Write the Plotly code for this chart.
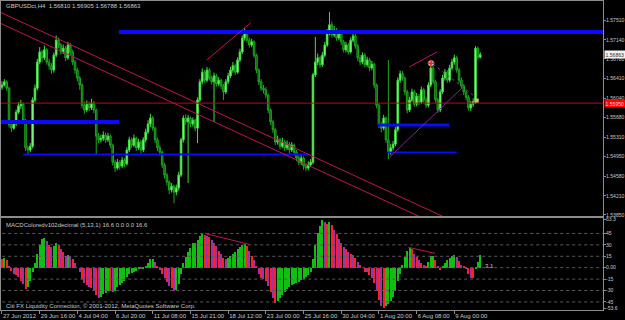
import numpy as np
import plotly.graph_objects as go

# ---------------- DATA ----------------
# prices stored in pips above 1.5000 (value = 1.5 + pips * 0.0001)
BASE = 1.5
PIP = 0.0001

first_open_pips = 625
close_pips = [
    629, 635, 623, 554, 548, 556, 578, 590, 593, 563,
    511, 507, 514, 601, 623, 672, 691, 680, 695, 672,
    665, 657, 685, 713, 704, 691, 698, 680, 704, 691,
    672, 657, 642, 629, 591, 582, 593, 586, 595, 582,
    533, 526, 529, 535, 526, 533, 516, 484, 473, 484,
    477, 488, 481, 507, 526, 516, 529, 511, 522, 507,
    526, 541, 556, 567, 548, 526, 511, 503, 479, 460,
    447, 432, 439, 428, 436, 460, 526, 567, 560, 567,
    556, 563, 548, 601, 635, 653, 638, 657, 642, 635,
    646, 631, 638, 627, 616, 635, 646, 657, 665, 653,
    676, 691, 717, 728, 713, 704, 710, 685, 657, 635,
    623, 620, 610, 582, 560, 545, 522, 526, 514, 522,
    511, 518, 507, 516, 503, 492, 484, 492, 477, 473,
    479, 484, 648, 672, 680, 667, 685, 704, 728, 742,
    723, 732, 717, 725, 710, 695, 704, 691, 713, 721,
    702, 680, 672, 685, 667, 676, 661, 668, 629, 591,
    554, 548, 567, 526, 503, 511, 518, 545, 638, 650,
    642, 616, 582, 601, 616, 593, 608, 597, 620, 601,
    591, 629, 661, 635, 601, 582, 616, 642, 653, 638,
    661, 672, 680, 657, 638, 627, 616, 606, 586, 593,
    598, 698, 681, 686.3,
]
high_pips = [
    636, 640, 638, 626, 560, 562, 583, 597, 601, 596,
    566, 516, 520, 606, 630, 678, 700, 695, 703, 698,
    678, 670, 690, 722, 718, 708, 705, 702, 710, 708,
    695, 676, 661, 646, 632, 598, 600, 598, 603, 599,
    585, 539, 536, 542, 540, 539, 536, 519, 489, 490,
    488, 494, 492, 512, 532, 530, 536, 532, 528, 526,
    531, 547, 563, 575, 571, 551, 530, 516, 506, 483,
    464, 450, 445, 442, 442, 466, 530, 572, 574, 573,
    570, 568, 566, 606, 640, 660, 657, 663, 661, 647,
    652, 650, 644, 641, 631, 640, 652, 663, 672, 669,
    681, 697, 722, 736, 731, 718, 716, 713, 688, 660,
    640, 629, 625, 613, 585, 563, 548, 534, 530, 530,
    526, 525, 522, 522, 519, 507, 497, 498, 495, 482,
    486, 490, 652, 719, 688, 684, 691, 710, 734, 766,
    748, 740, 736, 731, 729, 714, 710, 708, 718, 728,
    725, 706, 685, 690, 689, 682, 680, 674, 671, 632,
    595, 560, 573, 570, 676, 518, 524, 550, 643, 656,
    655, 645, 620, 607, 622, 620, 614, 612, 626, 624,
    606, 634, 670, 665, 639, 605, 621, 648, 659, 657,
    667, 678, 686, 684, 661, 643, 631, 620, 610, 599,
    604, 702, 701, 690.5,
]
low_pips = [
    620, 626, 618, 549, 541, 545, 552, 575, 584, 558,
    505, 498, 503, 510, 596, 619, 668, 672, 676, 667,
    658, 650, 652, 681, 698, 686, 687, 674, 676, 685,
    666, 650, 636, 620, 585, 575, 578, 580, 582, 576,
    498, 520, 521, 524, 520, 522, 510, 478, 466, 470,
    470, 473, 475, 478, 503, 511, 512, 505, 507, 500,
    503, 521, 537, 550, 543, 520, 505, 496, 473, 453,
    440, 424, 427, 407, 422, 431, 456, 521, 554, 445,
    550, 551, 542, 520, 597, 630, 633, 634, 637, 630,
    560, 626, 627, 621, 601, 612, 631, 642, 652, 648,
    650, 672, 687, 712, 708, 699, 700, 680, 651, 629,
    618, 613, 604, 576, 554, 539, 516, 517, 508, 510,
    505, 507, 500, 503, 497, 486, 478, 479, 470, 467,
    469, 475, 480, 644, 666, 661, 663, 681, 700, 722,
    718, 719, 712, 713, 704, 690, 690, 686, 688, 709,
    697, 674, 666, 668, 662, 663, 655, 657, 623, 585,
    548, 540, 544, 520, 490, 498, 506, 514, 541, 633,
    637, 610, 576, 578, 597, 588, 589, 591, 593, 596,
    586, 587, 625, 630, 596, 577, 578, 612, 637, 633,
    634, 656, 667, 652, 632, 622, 610, 600, 581, 580,
    588, 594, 677, 678.8,
]
macd_values = [
    12, 13, 10, 2, -4, -8, -10, -12, -18, -22,
    -28, -26, -18, -5, 6, 18, 30, 38, 39, 35,
    30, 27, 28, 32, 30, 25, 21, 16, 17, 16,
    12, 6, 0, -6, -15, -20, -23, -25, -27, -30,
    -36, -40, -38, -35, -33, -30, -30, -32, -30, -26,
    -23, -20, -17, -12, -8, -7, -5, -4, -2, -2,
    -1, 2, 6, 11, 12, 7, 2, -3, -8, -14,
    -19, -24, -27, -30, -29, -22, -8, 6, 14, 20,
    26, 32, 33, 37, 41, 44, 43, 42, 40, 36,
    33, 28, 22, 18, 13, 12, 13, 15, 18, 20,
    24, 27, 30, 31, 28, 22, 16, 10, 2, -8,
    -13, -15, -18, -24, -32, -40, -46, -44, -40, -36,
    -32, -28, -25, -23, -22, -20, -19, -16, -15, -12,
    -10, -5, 12, 30, 45, 55, 63.3, 60, 58, 60,
    56, 50, 44, 38, 33, 27, 24, 20, 18, 17,
    13, 8, 3, 0, -5, -6, -10, -13, -20, -30,
    -42, -50, -53.6, -50, -48, -44, -38, -30, -18, -8,
    4, 14, 22, 26, 24, 18, 14, 10, 6, 3,
    2, 8, 15, 16, 10, 2, -3, 1, 6, 10,
    13, 15, 17, 14, 9, 4, 1, -1, -8, -13,
    -14, -2, 8, 16.6,
]

time_tick_bars = [0, 16, 32, 48, 64, 80, 96, 112, 128, 144, 160, 176, 192]
time_tick_text = ["27 Jun 2012", "29 Jun 16:00", "4 Jul 04:00", "6 Jul 20:00",
                  "11 Jul 08:00", "15 Jul 21:00", "18 Jul 12:00", "23 Jul 00:00",
                  "25 Jul 16:00", "30 Jul 04:00", "1 Aug 20:00", "6 Aug 08:00",
                  "9 Aug 00:00"]
price_ticks = [1.57510, 1.57140, 1.56780, 1.56410, 1.56040, 1.55680,
               1.55310, 1.54950, 1.54580, 1.54210, 1.53850]
macd_ticks = [63.3, 45, 30, 15, 0, -15, -30, -45, -53.6]
macd_tick_text = ["63.3", "45", "30", "15", "0.00", "-15", "-30", "-45", "-53.6"]
macd_levels = [45, 30, 15, 0, -15, -30, -45]

red_level_price = 1.55950
blue_level_price = [1.57285, 1.55595, 1.54985, 1.55540, 1.55027]
blue_level_from_bar = [49.7, -1.0, 9.0, 159.5, 163.3]
blue_level_to_bar = [300.0, 49.8, 129.9, 189.9, 193.0]

channel_upper_bars = [-1, 230]
channel_upper_price = [1.57661, 1.52949]
channel_lower_bars = [-1, 230]
channel_lower_price = [1.57455, 1.52743]
crimson_a_bars = [86.9, 105.6]
crimson_a_price = [1.56759, 1.57459]
crimson_b_bars = [172.8, 184.6]
crimson_b_price = [1.56628, 1.56909]
purple_up_bars = [164.7, 195.7]
purple_up_price = [1.54944, 1.56252]
purple_dot_bars = [182.9, 199.9]
purple_dot_price = [1.56684, 1.56102]
macd_line_a_bars = [86.2, 105.0]
macd_line_a_vals = [44.9, 30.7]
macd_line_b_bars = [172.5, 183.8]
macd_line_b_vals = [26.8, 18.9]
stop_marker_bar = [182.1]
stop_marker_price = [1.56697]
trade_marker_bar = [201.5]
trade_marker_price = [1.55999]

symbol = "GBPUSDct,H4"
macd_caption = "MACDColoredv102decimal (5,13,1) 16.6 0.0 0.0 16.6"
macd_side_text = "3.1"
copyright_text = "Citi FX Liquidity Connection, \u00a9 2001-2012, MetaQuotes Software Corp."

# ---------------- BUILD ----------------
n = len(close_pips)
bars = np.arange(n)
close = BASE + np.array(close_pips, dtype=float) * PIP
opens = BASE + np.array([first_open_pips] + close_pips[:-1], dtype=float) * PIP
high = np.maximum(BASE + np.array(high_pips, dtype=float) * PIP, np.maximum(opens, close))
low = np.minimum(BASE + np.array(low_pips, dtype=float) * PIP, np.minimum(opens, close))

W, H = 625, 320
FONT = "Liberation Sans"
TXT = "#c8c8c8"
FRAME = "#8c8c8c"

def px_x(p):
    return p / W

def px_y(p):
    return 1 - p / H

fig = go.Figure()

fig.add_trace(go.Candlestick(
    x=bars, open=opens, high=high, low=low, close=close,
    xaxis="x", yaxis="y",
    increasing=dict(line=dict(color="#40e040", width=1), fillcolor="#9cff9c"),
    decreasing=dict(line=dict(color="#1fa51f", width=1), fillcolor="#0c5a0c"),
    whiskerwidth=0, hoverinfo="skip",
))

def seg(xs, ys, color, width, dash="solid", xa="x", ya="y"):
    fig.add_trace(go.Scatter(x=xs, y=ys, mode="lines", xaxis=xa, yaxis=ya,
                             line=dict(color=color, width=width, dash=dash),
                             hoverinfo="skip"))

# horizontal red level
seg([-5, 300], [red_level_price, red_level_price], "#b01010", 1)

# blue levels
blue_widths = [4, 4, 2, 3, 1.5]
for f, t, p, w in zip(blue_level_from_bar, blue_level_to_bar, blue_level_price, blue_widths):
    seg([f, t], [p, p], "#0a0aff", w)

# trend lines
CRIMSON = "#c0145a"
seg(channel_upper_bars, channel_upper_price, CRIMSON, 1)
seg(channel_lower_bars, channel_lower_price, CRIMSON, 1)
seg(crimson_a_bars, crimson_a_price, CRIMSON, 1)
seg(crimson_b_bars, crimson_b_price, CRIMSON, 1)
seg(purple_up_bars, purple_up_price, "#7a2a8a", 1)
seg(purple_dot_bars, purple_dot_price, "#8a2a9a", 1, dash="dot")

# markers
fig.add_trace(go.Scatter(x=stop_marker_bar, y=stop_marker_price, mode="markers",
                         xaxis="x", yaxis="y", hoverinfo="skip",
                         marker=dict(symbol="circle", size=6, color="#b0b0b0")))
fig.add_trace(go.Scatter(x=stop_marker_bar, y=stop_marker_price, mode="markers",
                         xaxis="x", yaxis="y", hoverinfo="skip",
                         marker=dict(symbol="cross-thin", size=5, color="#ff2020",
                                     line=dict(color="#ff2020", width=1.5))))
fig.add_trace(go.Scatter(x=trade_marker_bar, y=trade_marker_price, mode="markers",
                         xaxis="x", yaxis="y", hoverinfo="skip",
                         marker=dict(symbol="square", size=4, color="#d8b880")))

# MACD histogram
macd = np.array(macd_values, dtype=float)
colors = []
for i, v in enumerate(macd):
    prev = macd[i - 1] if i > 0 else v
    if v > prev:
        colors.append("#10c010")
    else:
        colors.append("#ff2020" if i % 2 == 0 else "#a030b0")
fig.add_trace(go.Bar(x=bars, y=macd, xaxis="x2", yaxis="y2", width=0.45,
                     marker=dict(color=colors, line=dict(width=0)), hoverinfo="skip"))

for lv in macd_levels:
    seg([-5, 300], [lv, lv], "#5a5a5a", 1, dash="dot", xa="x2", ya="y2")

seg(macd_line_a_bars, macd_line_a_vals, CRIMSON, 1, xa="x2", ya="y2")
seg(macd_line_b_bars, macd_line_b_vals, CRIMSON, 1, xa="x2", ya="y2")

# ---------------- LAYOUT ----------------
x_dom = [px_x(1), px_x(603)]
x_rng = [-0.42, 255.1]
tickfont = dict(family=FONT, size=6, color=TXT)
rfont = dict(family=FONT, size=5.1, color=TXT)

fig.update_layout(
    width=W, height=H, margin=dict(l=0, r=0, t=0, b=0, autoexpand=False),
    paper_bgcolor="#000000", plot_bgcolor="#000000",
    showlegend=False, boxgap=0.05, bargap=0,
    xaxis=dict(domain=x_dom, range=x_rng, anchor="y", showticklabels=False,
               ticks="", showgrid=False, zeroline=False, showline=True,
               linecolor=FRAME, linewidth=1, mirror=True, automargin=False,
               rangeslider=dict(visible=False)),
    xaxis2=dict(domain=x_dom, range=x_rng, anchor="y2", matches="x",
                tickmode="array", tickvals=time_tick_bars, ticktext=time_tick_text,
                ticks="outside", ticklen=3, tickcolor=FRAME, tickfont=tickfont,
                ticklabelposition="outside right", tickangle=0, automargin=False,
                showgrid=False, zeroline=False, showline=True,
                linecolor=FRAME, linewidth=1, mirror=True),
    yaxis=dict(domain=[px_y(216), px_y(1)], range=[1.538311, 1.578666],
               anchor="x", side="right", tickmode="array", tickvals=price_ticks,
               ticktext=[f"{v:.5f}" for v in price_ticks], automargin=False,
               ticks="outside", ticklen=2, tickcolor=FRAME, tickfont=rfont,
               ticklabelstandoff=-1,
               showgrid=False, zeroline=False, showline=True,
               linecolor=FRAME, linewidth=1, mirror=True),
    yaxis2=dict(domain=[px_y(310), px_y(218)], range=[-55.6, 65.3],
                anchor="x2", side="right", tickmode="array", tickvals=macd_ticks,
                ticktext=macd_tick_text, automargin=False,
                ticks="outside", ticklen=2, tickcolor=FRAME, tickfont=rfont,
                ticklabelstandoff=-1,
                showgrid=False, zeroline=False, showline=True,
                linecolor=FRAME, linewidth=1, mirror=True),
)

header = f"{symbol}  {opens[-1]:.5f} {high[-1]:.5f} {low[-1]:.5f} {close[-1]:.5f}"
ann = [
    dict(text=header, x=px_x(4), y=px_y(6.5), xref="paper", yref="paper",
         xanchor="left", yanchor="middle", showarrow=False, font=tickfont),
    dict(text=macd_caption, x=px_x(4), y=px_y(225), xref="paper", yref="paper",
         xanchor="left", yanchor="middle", showarrow=False, font=tickfont),
    dict(text=copyright_text, x=px_x(4), y=px_y(305.5), xref="paper", yref="paper",
         xanchor="left", yanchor="middle", showarrow=False, font=tickfont),
    dict(text=macd_side_text, x=px_x(483), y=px_y(266), xref="paper", yref="paper",
         xanchor="left", yanchor="middle", showarrow=False, font=tickfont),
    dict(text=f"{close[-1]:.5f}", x=px_x(604), y=close[-1], xref="paper", yref="y",
         xanchor="left", yanchor="middle", showarrow=False, bgcolor="#f2f2f2",
         borderpad=0.5, font=dict(family=FONT, size=5.1, color="#303030")),
    dict(text=f"{red_level_price:.5f}", x=px_x(604), y=red_level_price, xref="paper", yref="y",
         xanchor="left", yanchor="middle", showarrow=False, bgcolor="#ff0000",
         borderpad=0.5, font=dict(family=FONT, size=5.1, color="#ffd0d0")),
]
fig.update_layout(annotations=ann)

fig.write_html("out.html")
